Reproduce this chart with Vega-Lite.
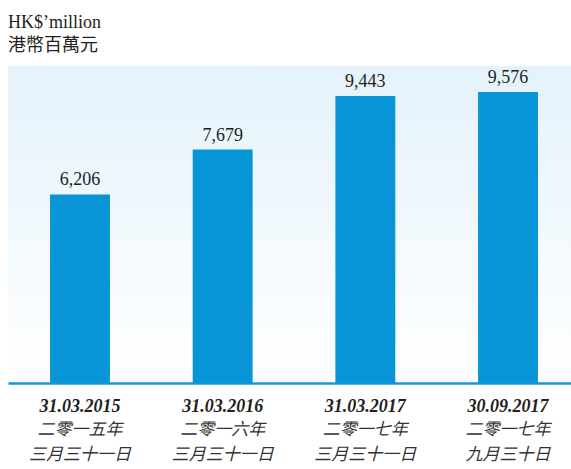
{
  "$schema": "https://vega.github.io/schema/vega-lite/v6.json",
  "width": 563,
  "height": 317,
  "autosize": {"type": "none"},
  "padding": {"left": 8, "top": 66, "right": 0, "bottom": 86},
  "background": "#ffffff",
  "title": {
    "text": ["HK$’million", "港幣百萬元"],
    "anchor": "start",
    "frame": "group",
    "font": "Liberation Serif, Noto Sans CJK TC",
    "fontSize": 18,
    "fontWeight": "normal",
    "color": "#231f20",
    "lineHeight": 23,
    "offset": 11
  },
  "data": {
    "values": [
      {"period": "31.03.2015|二零一五年|三月三十一日", "value": 6206},
      {"period": "31.03.2016|二零一六年|三月三十一日", "value": 7679},
      {"period": "31.03.2017|二零一七年|三月三十一日", "value": 9443},
      {"period": "30.09.2017|二零一七年|九月三十日", "value": 9576}
    ]
  },
  "layer": [
    {
      "mark": {"type": "bar", "color": "#0795d7"},
      "encoding": {
        "x": {
          "field": "period",
          "type": "nominal",
          "sort": null,
          "scale": {"paddingInner": 0.58, "paddingOuter": 0.263, "align": 0.56},
          "axis": {
            "orient": "bottom",
            "title": null,
            "labelAngle": 0,
            "ticks": false,
            "domain": true,
            "domainColor": "#1a96d8",
            "domainWidth": 2.5,
            "labelExpr": "split(datum.value, '|')[0]",
            "labelFont": "Liberation Serif",
            "labelFontSize": 18,
            "labelFontWeight": "bold",
            "labelFontStyle": "italic",
            "labelColor": "#231f20",
            "labelPadding": 14
          }
        },
        "y": {
          "field": "value",
          "type": "quantitative",
          "scale": {"domain": [0, 10430], "nice": false},
          "axis": null
        }
      }
    },
    {
      "mark": {"type": "text", "baseline": "alphabetic", "dy": -9, "font": "Liberation Serif", "fontSize": 18, "color": "#231f20"},
      "encoding": {
        "x": {
          "field": "period",
          "type": "nominal",
          "sort": null,
          "axis": {
            "orient": "bottom",
            "title": null,
            "labelAngle": 0,
            "ticks": false,
            "domain": false,
            "labelExpr": "slice(split(datum.value, '|'), 1)",
            "labelFont": "Noto Sans CJK TC",
            "labelFontSize": 17,
            "labelFontStyle": "italic",
            "labelColor": "#333333",
            "labelLineHeight": 25,
            "labelPadding": 38
          }
        },
        "y": {"field": "value", "type": "quantitative"},
        "text": {"field": "value", "type": "quantitative", "format": ",d"}
      }
    }
  ],
  "resolve": {"axis": {"x": "independent"}},
  "config": {
    "view": {
      "stroke": null,
      "fill": {
        "gradient": "linear",
        "x1": 0, "y1": 0, "x2": 0, "y2": 1,
        "stops": [
          {"offset": 0, "color": "#e4f2fb"},
          {"offset": 1, "color": "#ffffff"}
        ]
      }
    }
  }
}
